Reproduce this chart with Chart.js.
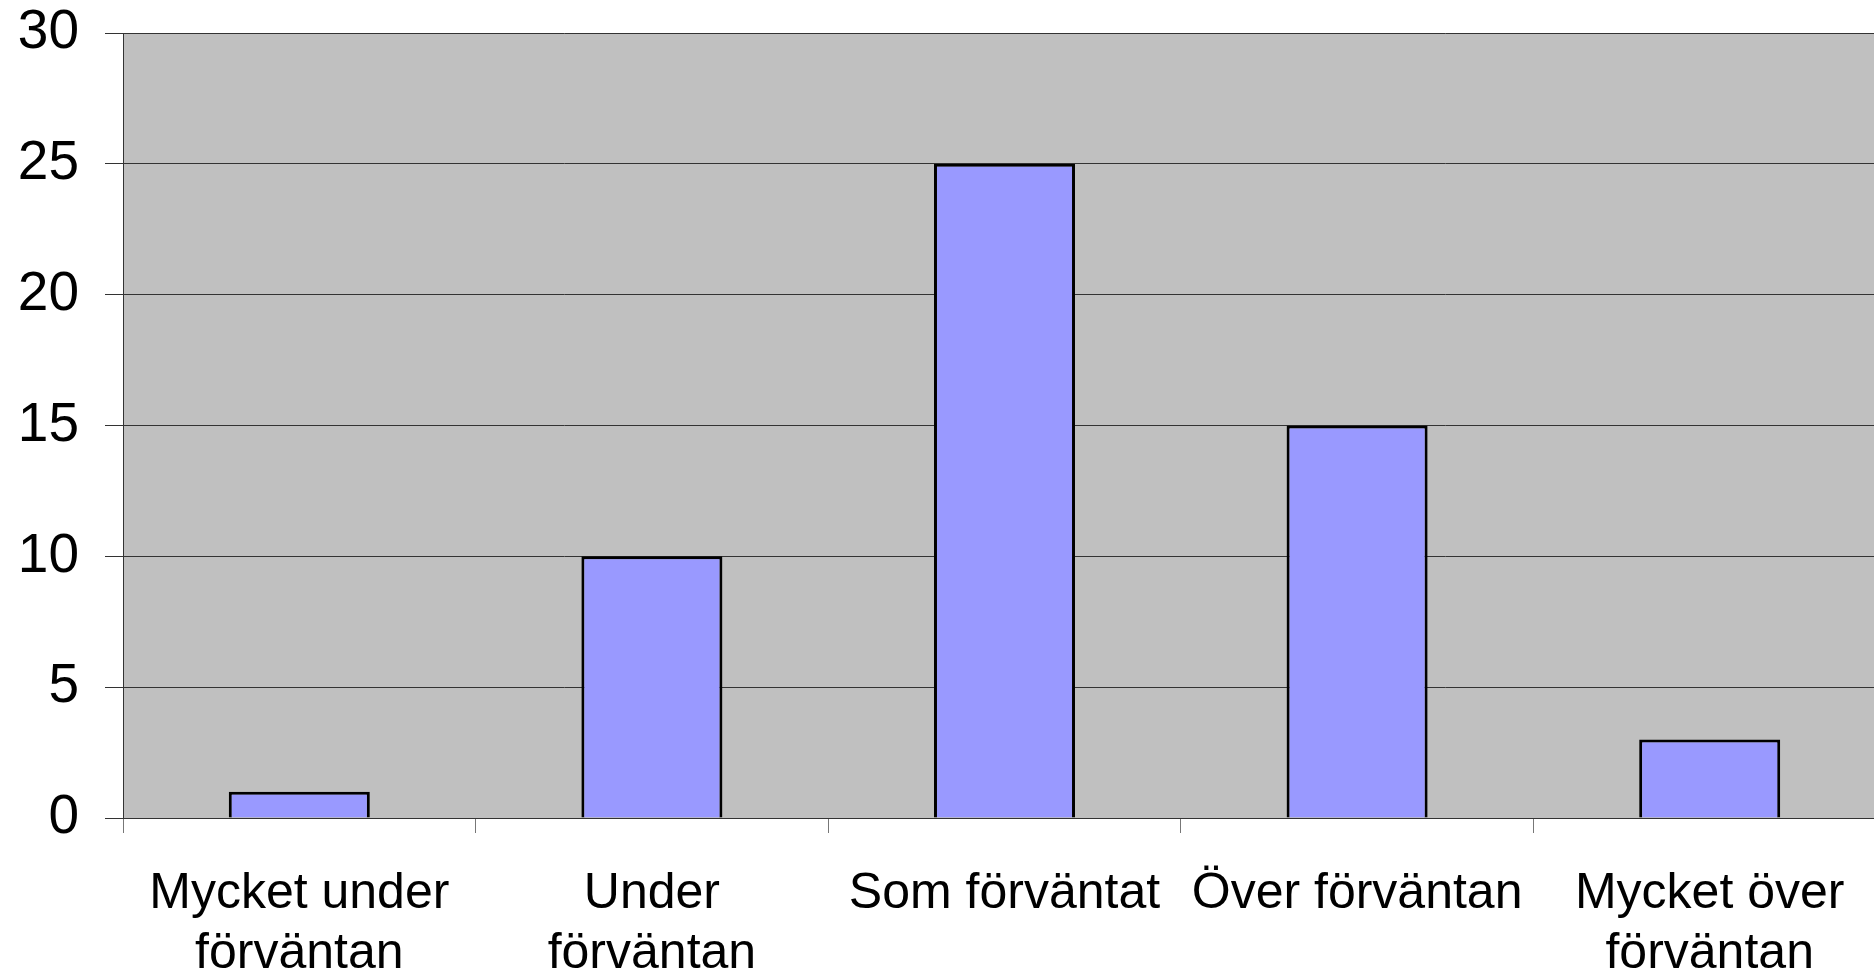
<!DOCTYPE html>
<html>
<head>
<meta charset="utf-8">
<script src="https://cdn.jsdelivr.net/npm/chart.js@4"></script>
<style>
  html, body { margin: 0; padding: 0; background: #fff; overflow: hidden; }
  #wrap { width: 1886px; height: 972px; }
</style>
</head>
<body>
<div id="wrap"><canvas id="chart"></canvas></div>
<script>
// data
const categories = [
  ["Mycket under", "förväntan"],
  ["Under", "förväntan"],
  "Som förväntat",
  "Över förväntan",
  ["Mycket över", "förväntan"]
];
const counts = [1, 10, 25, 15, 3];
const yTicks = [0, 5, 10, 15, 20, 25, 30];

// grey plot background
const plotBg = {
  id: 'plotBg',
  beforeDraw(chart) {
    const { ctx, chartArea: a } = chart;
    ctx.save();
    ctx.fillStyle = '#c0c0c0';
    ctx.fillRect(a.left, a.top, a.right - a.left, a.bottom - a.top);
    ctx.restore();
  }
};

const ctx = document.getElementById('chart');
new Chart(ctx, {
  type: 'bar',
  data: {
    labels: categories,
    datasets: [{
      data: counts,
      backgroundColor: '#9999ff',
      borderColor: '#000000',
      borderWidth: 3,
      barPercentage: 0.4,
      categoryPercentage: 1.0
    }]
  },
  options: {
    responsive: true,
    maintainAspectRatio: false,
    animation: false,
    layout: { padding: { top: 33, right: 0, left: 0, bottom: 0 } },
    plugins: {
      legend: { display: false },
      tooltip: { enabled: false }
    },
    scales: {
      x: {
        offset: true,
        grid: {
          offset: true,
          drawOnChartArea: false,
          drawTicks: true,
          tickLength: 15,
          color: '#777777'
        },
        border: { color: '#333333', width: 1 },
        ticks: {
          color: '#000',
          font: { family: 'Liberation Sans, Arial, sans-serif', size: 50 },
          maxRotation: 0,
          autoSkip: false,
          padding: 31
        },
        afterFit(scale) {
          scale.height = 154;
          scale.paddingLeft = 0;
          scale.paddingRight = 0;
        }
      },
      y: {
        min: 0,
        max: 30,
        afterBuildTicks(scale) { scale.ticks = yTicks.map(v => ({ value: v })); },
        grid: {
          color: '#333333',
          lineWidth: 1,
          tickLength: 18
        },
        border: { color: '#333333', width: 1 },
        ticks: {
          color: '#000',
          font: { family: 'Liberation Sans, Arial, sans-serif', size: 55 },
          padding: 26
        },
        afterFit(scale) {
          scale.width = 123;
          scale.paddingTop = 0;
          scale.paddingBottom = 0;
        }
      }
    }
  },
  plugins: [plotBg]
});
</script>
</body>
</html>
